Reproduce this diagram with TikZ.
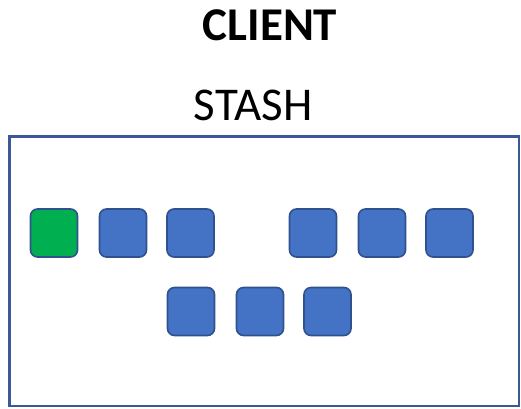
\documentclass[tikz,border=0pt]{standalone}
\usepackage{fontspec}
\setmainfont{Carlito}
\definecolor{boxblue}{HTML}{4472C4}
\definecolor{boxgreen}{HTML}{00B050}
\definecolor{edgeblue}{HTML}{2F528F}
\definecolor{frameblue}{HTML}{3B5998}
\begin{document}
\begin{tikzpicture}[x=1bp,y=-1bp,
  tile/.style={draw=edgeblue, line width=1.6bp, rounded corners=7bp,
    minimum width=47bp, minimum height=48bp, inner sep=0pt, fill=boxblue},
  heading/.style={anchor=base, inner sep=0pt, font=\fontsize{47bp}{50bp}\selectfont}]
\useasboundingbox (0,0) rectangle (521,408);
% titles
\node[heading, font=\fontsize{47bp}{50bp}\selectfont\bfseries] (client) at (270,40) {CLIENT};
\node[heading] (stash) at (253,120) {STASH};
% stash frame
\draw[frameblue, line width=2.6bp] (9.5,136.5) rectangle (519,406);
% items, top row
\node[tile, fill=boxgreen] (t1) at (54,233) {};
\node[tile] (t2) at (123,233) {};
\node[tile] (t3) at (190.5,233) {};
\node[tile] (t4) at (313,233) {};
\node[tile] (t5) at (382,233) {};
\node[tile] (t6) at (449.5,233) {};
% items, bottom row
\node[tile] (b1) at (191,311.5) {};
\node[tile] (b2) at (260,311.5) {};
\node[tile] (b3) at (327.5,311.5) {};
\end{tikzpicture}
\end{document}
